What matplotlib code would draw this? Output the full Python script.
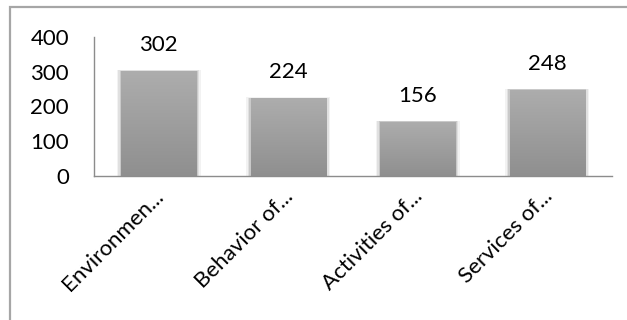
import numpy as np
import matplotlib
matplotlib.use("Agg")
import matplotlib.pyplot as plt
from matplotlib.patches import Rectangle
from matplotlib.colors import LinearSegmentedColormap
from matplotlib import transforms

categories = ["Environmen...", "Behavior of...", "Activities of...", "Services of..."]
values = [302, 224, 156, 248]
yticks = [0, 100, 200, 300, 400]

plt.rcParams["font.family"] = ["Lato", "DejaVu Sans"]
FS = 16

fig = plt.figure(figsize=(6.27, 3.2), dpi=100)
fig.patch.set_facecolor("white")

# chart frame (only top and left edges fall inside the image)
frame = Rectangle((10 / 627, -0.05), 1.2, (320 - 7) / 320 + 0.05,
                  transform=fig.transFigure, fill=False,
                  edgecolor="#a6a6a6", linewidth=1.6, zorder=0)
fig.add_artist(frame)

ax = fig.add_axes([94 / 627, 1 - 176 / 320, (612 - 94) / 627, (176 - 37) / 320])
ax.set_facecolor("none")
ax.set_xlim(-0.5, len(categories) - 0.5)
ax.set_ylim(0, 400)

for s in ["top", "right"]:
    ax.spines[s].set_visible(False)
for s in ["left", "bottom"]:
    ax.spines[s].set_color("#8c8c8c")
    ax.spines[s].set_linewidth(1.0)

ax.set_yticks(yticks)
ax.set_yticklabels([str(t) for t in yticks], fontsize=FS, color="#000000")
ax.tick_params(axis="y", length=0, pad=18)
ax.tick_params(axis="x", length=0)

cmap = LinearSegmentedColormap.from_list("bar", ["#8f8f8f", "#adadad"])
grad = np.linspace(0, 1, 256).reshape(-1, 1)
width = 0.58

for i, v in enumerate(values):
    x0 = i - width / 2
    # soft shadow around each bar
    for k, a in zip([0.07, 0.045, 0.025], [0.05, 0.07, 0.10]):
        sh = Rectangle((x0 - k * 0.5, 0), width + k, v + k * 40,
                       facecolor="#000000", alpha=a, edgecolor="none", zorder=1)
        ax.add_patch(sh)
    rect = Rectangle((x0, 0), width, v, facecolor="none", edgecolor="none", zorder=2)
    ax.add_patch(rect)
    im = ax.imshow(grad, cmap=cmap, aspect="auto", origin="lower",
                   extent=(x0, x0 + width, 0, v), zorder=2)
    im.set_clip_path(rect)
    ax.annotate(str(v), (i, v), xytext=(0, 18.5), textcoords="offset points",
                ha="center", va="center", fontsize=FS, color="#000000")

ax.set_xticks(range(len(categories)))
ax.set_xticklabels([])
for i, c in enumerate(categories):
    off = transforms.ScaledTranslation(2 / 100, -17 / 100, fig.dpi_scale_trans)
    ax.text(i, 0, c, transform=ax.get_xaxis_transform() + off,
            rotation=45, rotation_mode="anchor", ha="right", va="center",
            fontsize=FS, color="#000000")

fig.savefig("out.png", dpi=100, facecolor="white")
